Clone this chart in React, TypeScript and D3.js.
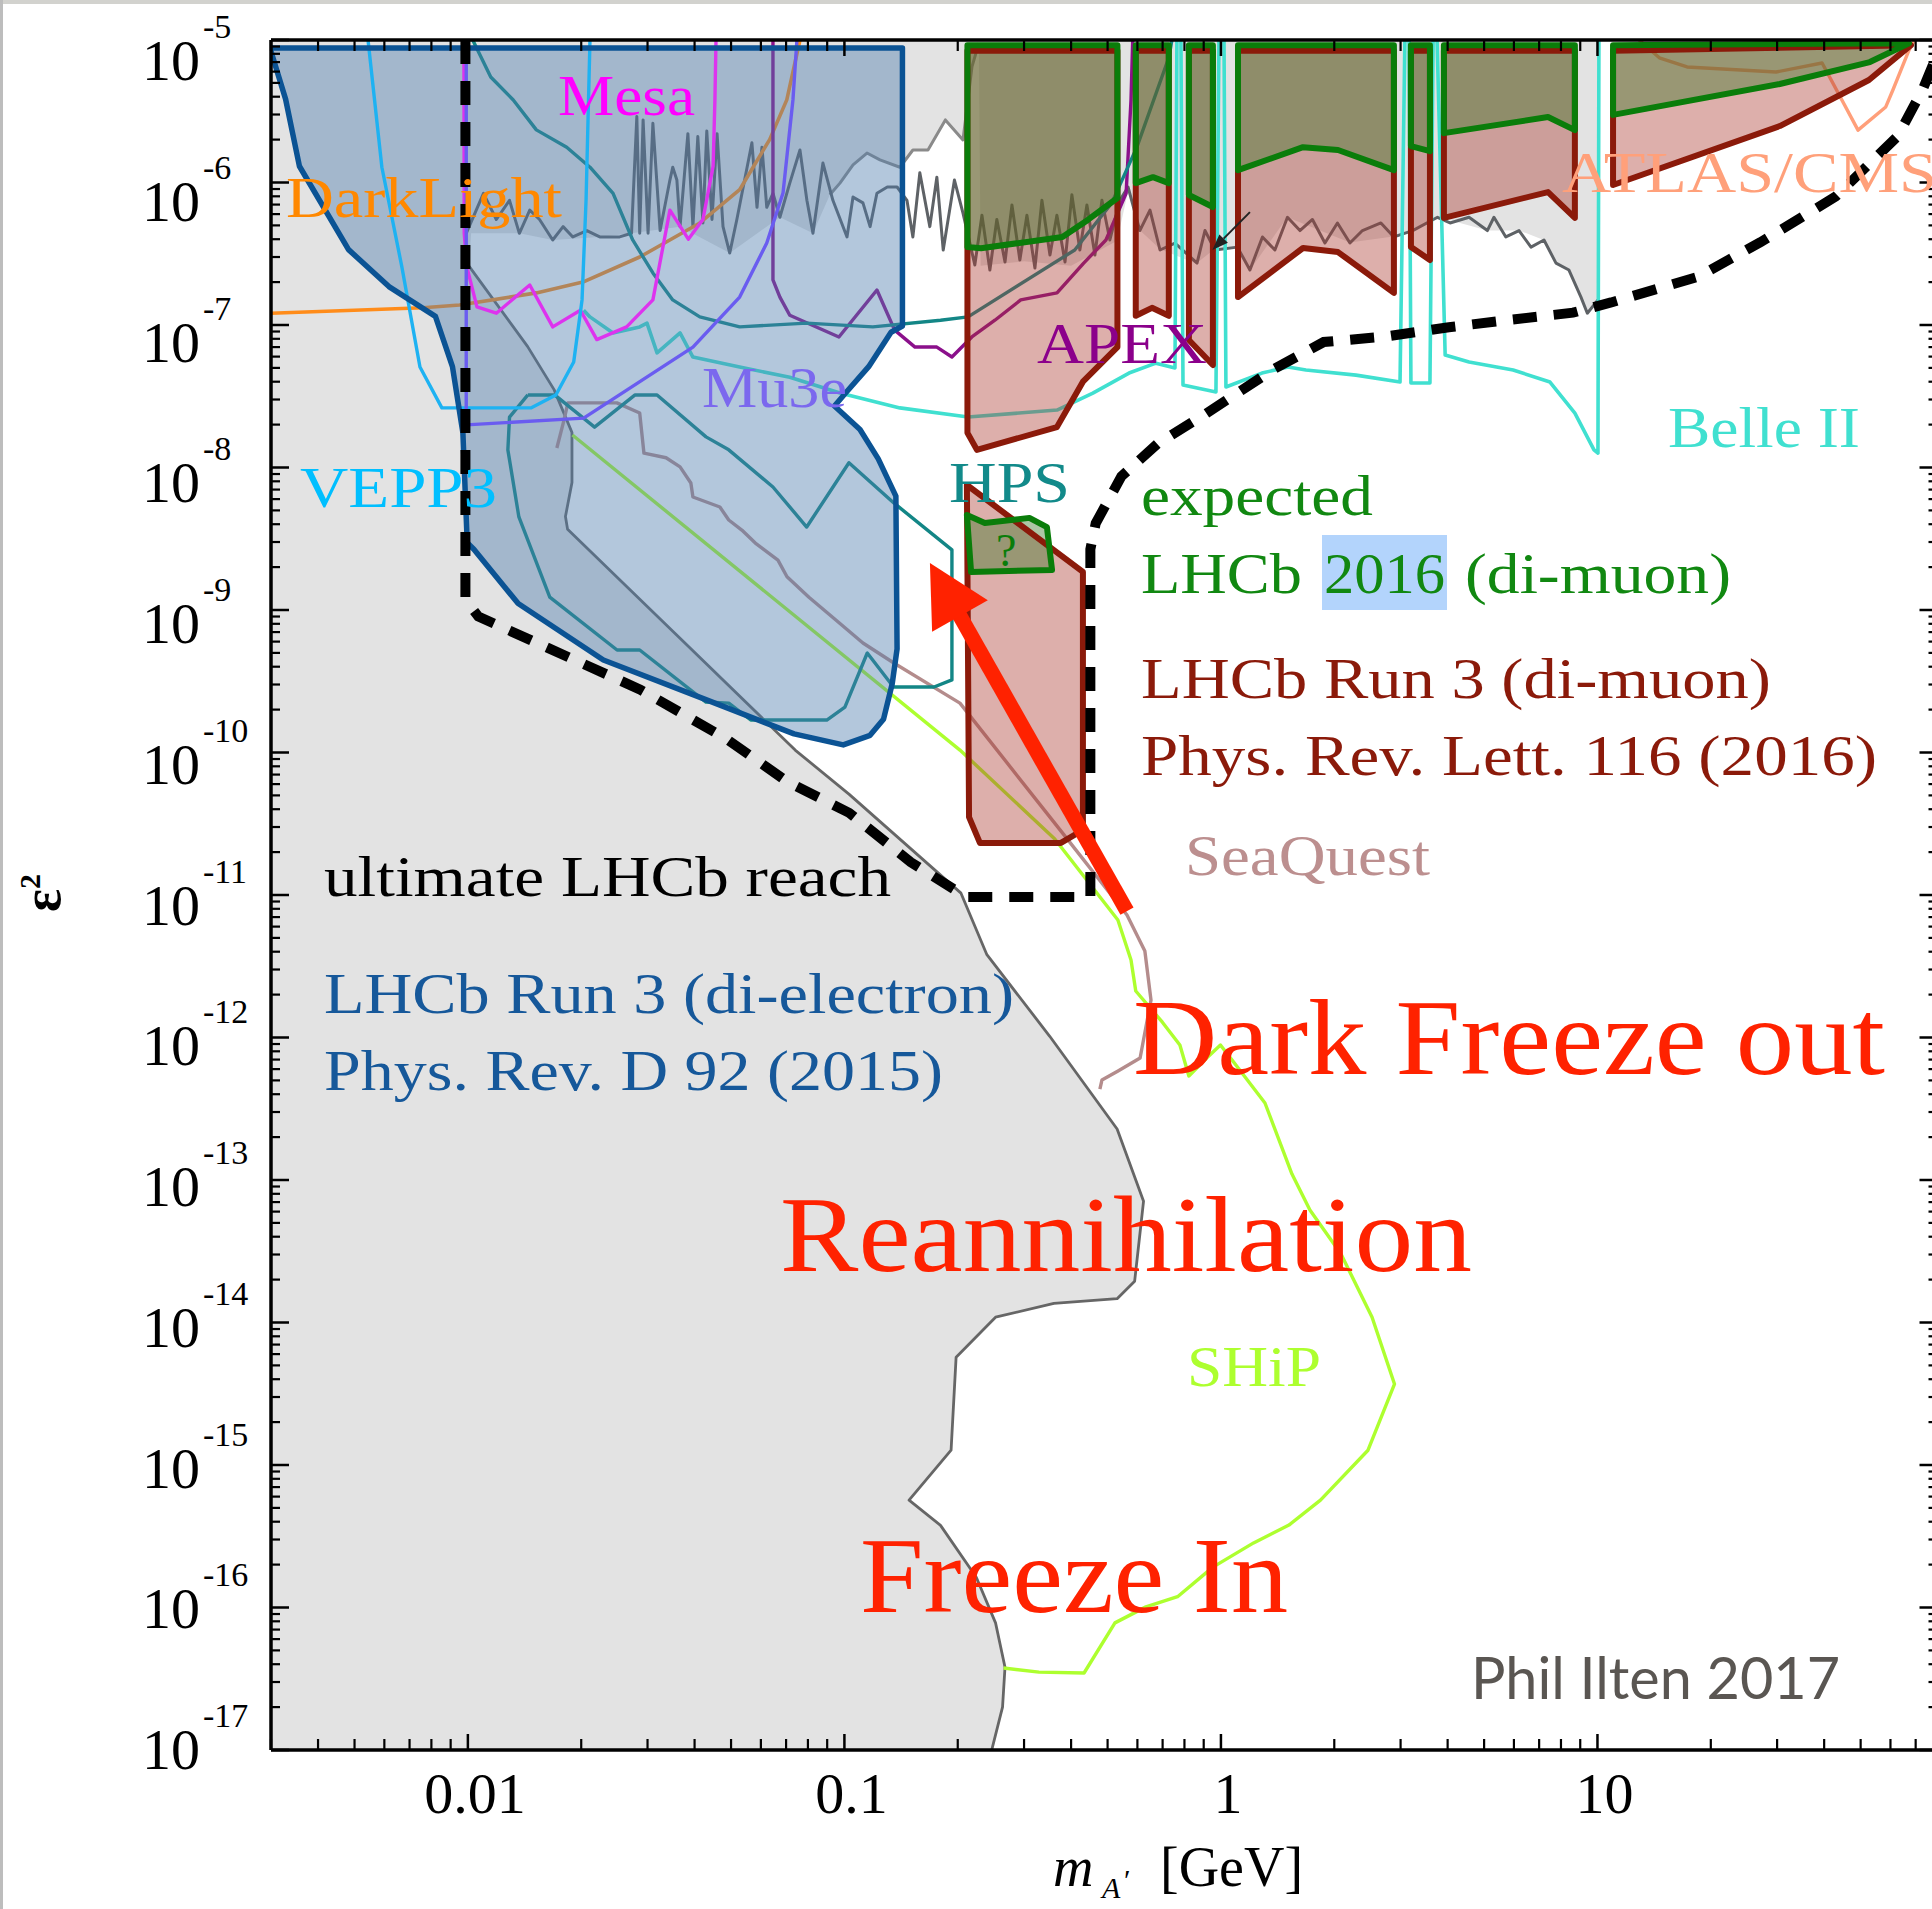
import React from "react";
import * as d3 from "d3";

type P = [number, number];

// ---------- axes ----------
const massDomain: [number, number] = [0.003, 80];
const eps2Domain: [number, number] = [1e-5, 1e-17];
const xMajorTicks = [0.01, 0.1, 1, 10];
const xTickLabels = ["0.01", "0.1", "1", "10"];
const yExponents = [-5, -6, -7, -8, -9, -10, -11, -12, -13, -14, -15, -16, -17];

// ---------- existing limits (grey) ----------
const existingUpper: P[] = [
  [0.0102, 4.4e-7], [0.0137, 4.4e-7], [0.0168, 3.95e-7], [0.0224, 4.15e-7], [0.0272, 4.4e-7],
  [0.0366, 4.9e-7], [0.0496, 3.2e-7], [0.0674, 5.7e-7], [0.0825, 4.4e-7], [0.0915, 8.2e-7],
  [0.1054, 1.33e-6], [0.1148, 1.61e-6], [0.1243, 1.44e-6], [0.1404, 1.28e-6], [0.152, 1.69e-6],
  [0.1667, 1.69e-6], [0.1854, 2.75e-6], [0.2065, 1.99e-6], [0.2182, 6.5e-6], [0.2276, 9.5e-6],
  [0.23, 2.6e-7], [0.3, 2.8e-7], [0.4, 2.6e-7], [0.53, 3.9e-7], [0.57, 9.3e-7], [0.61, 4.6e-7],
  [0.69, 3.4e-7], [0.86, 2.7e-7], [0.96, 3.4e-7], [1.11, 3.5e-7], [1.19, 2.4e-7], [1.5, 5.7e-7],
  [2.2, 3.8e-7], [2.9, 4.2e-7], [3.8, 5.7e-7], [5.1, 4.6e-7], [6.2, 4.6e-7], [7.2, 3.95e-7],
  [7.76, 2.72e-7], [8.4, 2.43e-7], [9.04, 1.57e-7], [9.4, 1.21e-7], [10.03, 1.5e-7], [10.1, 1e-5],
  [80, 1e-5],
];

const beamDump: P[] = [
  [0.01008, 2.58e-7], [0.0144, 7.08e-8], [0.01694, 3.52e-8], [0.0189, 1.76e-8], [0.0189, 7.84e-9],
  [0.01816, 4.53e-9], [0.0184, 3.68e-9], [0.0354, 6.9e-10], [0.074, 1.04e-10], [0.103, 5.08e-11],
  [0.204, 1.03e-11], [0.239, 3.81e-12], [0.351, 1.02e-12], [0.53, 2.28e-13], [0.623, 7.1e-14],
  [0.59, 1.95e-14], [0.53, 1.47e-14], [0.36, 1.36e-14], [0.252, 1.09e-14], [0.198, 5.71e-15],
  [0.192, 1.27e-15], [0.1485, 5.67e-16], [0.18, 3.77e-16], [0.224, 1.63e-16], [0.252, 7.8e-17],
  [0.267, 3.81e-17], [0.263, 2.0e-17], [0.245, 9.5e-18],
];

const babarNoise: P[] = [
  [0.0099, 4.4e-7], [0.011, 8.4e-7], [0.0119, 5.5e-7], [0.0129, 7.5e-7], [0.0137, 4.4e-7], [0.0146, 6.4e-7],
  [0.0155, 5.5e-7], [0.0168, 3.95e-7], [0.0179, 4.9e-7], [0.019, 4.15e-7], [0.0207, 4.6e-7], [0.0224, 4.15e-7],
  [0.0253, 4.15e-7], [0.0272, 4.4e-7], [0.0281, 2.9e-6], [0.0286, 4.4e-7], [0.0292, 2.75e-6], [0.0301, 4.4e-7],
  [0.031, 2.6e-6], [0.0324, 4.6e-7], [0.0344, 1.04e-6], [0.035, 1.28e-6], [0.0359, 1.04e-6], [0.0366, 4.9e-7],
  [0.0384, 2.2e-6], [0.0396, 4.9e-7], [0.0408, 2.1e-6], [0.0421, 5.2e-7], [0.0431, 2.3e-6], [0.0445, 5.5e-7],
  [0.0459, 2.2e-6], [0.0476, 4.9e-7], [0.0496, 3.2e-7], [0.0518, 5.5e-7], [0.0568, 1.9e-6], [0.0586, 6.7e-7],
  [0.0604, 1.77e-6], [0.0622, 6.7e-7], [0.0646, 8.4e-7], [0.0674, 5.7e-7], [0.0716, 9.9e-7], [0.0762, 1.69e-6],
  [0.0795, 7.5e-7], [0.0825, 4.4e-7], [0.0877, 1.37e-6], [0.0932, 7.5e-7], [0.1016, 4.15e-7], [0.1054, 7.9e-7],
  [0.112, 7.2e-7], [0.117, 4.9e-7], [0.122, 8.4e-7], [0.13, 9.3e-7], [0.138, 9.3e-7], [0.1466, 7.5e-7],
  [0.152, 4.15e-7], [0.1586, 1.17e-6], [0.1686, 4.9e-7], [0.176, 1.09e-6], [0.183, 3.36e-7], [0.196, 1.04e-6],
  [0.2065, 6.1e-7], [0.222, 2.64e-7], [0.2319, 5.9e-7], [0.2434, 2.43e-7], [0.254, 5.5e-7], [0.267, 2.77e-7],
  [0.2786, 6.95e-7], [0.2924, 2.86e-7], [0.3053, 5.9e-7], [0.3206, 2.51e-7], [0.3346, 7.5e-7], [0.3515, 3.1e-7],
  [0.3667, 5.9e-7], [0.3854, 2.77e-7], [0.4019, 8.2e-7], [0.422, 3.36e-7], [0.4406, 6.95e-7], [0.4627, 3.1e-7],
  [0.483, 7.5e-7], [0.507, 3.95e-7], [0.539, 7.5e-7], [0.5666, 9.3e-7], [0.609, 4.6e-7], [0.648, 6.4e-7],
  [0.689, 3.36e-7], [0.755, 3.76e-7], [0.864, 2.72e-7], [0.907, 4.6e-7], [0.964, 3.36e-7], [1.106, 3.52e-7],
  [1.194, 2.43e-7], [1.289, 4.15e-7], [1.391, 3.36e-7], [1.502, 5.7e-7], [1.621, 4.6e-7], [1.75, 5.5e-7],
  [1.889, 3.76e-7], [2.039, 5.2e-7], [2.201, 3.76e-7], [2.376, 4.6e-7], [2.66, 5.2e-7], [2.88, 4.15e-7],
  [3.23, 4.6e-7], [3.76, 5.7e-7], [4.06, 5.2e-7], [4.56, 5.7e-7], [5.1, 4.6e-7], [5.31, 5.7e-7],
  [5.71, 4.15e-7], [6.19, 4.6e-7], [6.66, 3.52e-7], [7.21, 3.95e-7], [7.76, 2.72e-7], [8.4, 2.43e-7],
  [9.04, 1.57e-7], [9.4, 1.21e-7], [10.03, 1.5e-7],
];

const babarUpper: P[] = [
  [0.0915, 8.2e-7], [0.0973, 9.9e-7], [0.1054, 1.33e-6], [0.1148, 1.61e-6], [0.1243, 1.44e-6],
  [0.1404, 1.28e-6], [0.152, 1.69e-6], [0.1667, 1.69e-6], [0.1854, 2.75e-6], [0.2065, 1.99e-6],
  [0.2182, 6.5e-6], [0.2276, 9.5e-6],
];

// ---------- future experiments ----------
const darkLight: P[] = [
  [0.003, 1.21e-7], [0.0076, 1.32e-7], [0.0095, 1.38e-7], [0.0152, 1.68e-7], [0.0202, 2.0e-7],
  [0.0286, 3.0e-7], [0.0413, 5.2e-7], [0.0527, 8.9e-7], [0.0633, 2.0e-6], [0.0703, 3.8e-6], [0.0762, 1e-5],
];
const mesa: P[] = [
  [0.00976, 1e-5], [0.00978, 4.4e-7], [0.00994, 2.55e-7], [0.01057, 1.34e-7], [0.0119, 1.21e-7],
  [0.0146, 1.91e-7], [0.0168, 9.7e-8], [0.0199, 1.27e-7], [0.022, 7.9e-8], [0.0264, 9.7e-8],
  [0.031, 1.5e-7], [0.0344, 6.4e-7], [0.0385, 4.0e-7], [0.0421, 5.5e-7], [0.0448, 1.3e-6],
  [0.0453, 3.8e-6], [0.0456, 1e-5],
];
const vepp3: P[] = [
  [0.00543, 1e-5], [0.00591, 1.28e-6], [0.00668, 2.55e-7], [0.00746, 5.07e-8], [0.00853, 2.62e-8],
  [0.0147, 2.62e-8], [0.01713, 3.23e-8], [0.0191, 5.5e-8], [0.0201, 1.5e-7], [0.0206, 7.5e-7], [0.0211, 1e-5],
];
const mu3e: P[] = [
  [0.0099, 1e-5], [0.0099, 1.99e-8], [0.0203, 2.22e-8], [0.0396, 7.0e-8], [0.0527, 1.57e-7],
  [0.0622, 3.76e-7], [0.0687, 8.43e-7], [0.073, 3.8e-6], [0.0748, 1e-5],
];
const apex: P[] = [
  [0.0646, 1e-5], [0.0646, 2.07e-7], [0.0674, 1.57e-7], [0.0716, 1.17e-7], [0.0967, 8.24e-8],
  [0.122, 1.76e-7], [0.136, 9.2e-8], [0.154, 7.0e-8], [0.176, 7.0e-8], [0.193, 5.96e-8],
  [0.218, 8.24e-8], [0.251, 1.08e-7], [0.294, 1.5e-7], [0.367, 1.68e-7], [0.432, 2.72e-7],
  [0.495, 3.95e-7], [0.56, 8.4e-7], [0.577, 3.8e-6], [0.583, 1e-5],
];
const hpsUpper: P[] = [
  [0.0103, 1e-5], [0.0115, 5.5e-6], [0.0132, 3.79e-6], [0.0152, 2.34e-6], [0.0183, 1.77e-6],
  [0.0211, 1.28e-6], [0.0243, 8.4e-7], [0.0274, 3.95e-7], [0.031, 2.32e-7], [0.035, 1.5e-7],
  [0.0413, 1.14e-7], [0.0527, 9.7e-8], [0.0794, 1.03e-7], [0.119, 9.7e-8], [0.18, 1.08e-7],
  [0.213, 1.14e-7], [0.409, 3.36e-7], [0.513, 7.2e-7], [0.598, 1.77e-6], [0.728, 7.6e-6], [0.741, 1e-5],
];
const hpsLower: P[] = [
  [0.01443, 3.23e-8], [0.017, 3.23e-8], [0.0217, 1.92e-8], [0.0278, 3.23e-8], [0.0318, 3.23e-8],
  [0.0429, 1.64e-8], [0.0493, 1.33e-8], [0.0646, 7.3e-9], [0.0794, 3.82e-9], [0.1028, 1.08e-8],
  [0.1353, 5.64e-9], [0.193, 2.64e-9], [0.193, 3.23e-10], [0.173, 2.88e-10], [0.135, 2.88e-10],
  [0.115, 4.99e-10], [0.1003, 2.08e-10], [0.0898, 1.69e-10], [0.0564, 1.69e-10], [0.0493, 2.22e-10],
  [0.0429, 2.26e-10], [0.0286, 5.24e-10], [0.0249, 5.24e-10], [0.0165, 1.23e-9], [0.01366, 4.5e-9],
  [0.01277, 1.33e-8], [0.0129, 2.26e-8], [0.01443, 3.23e-8],
];
const belle2: P[] = [
  [0.0203, 1.27e-7], [0.0211, 1.14e-7], [0.0243, 8.8e-8], [0.0286, 9.7e-8], [0.0299, 1.03e-7],
  [0.0318, 6.37e-8], [0.0366, 8.8e-8], [0.0396, 5.96e-8], [0.0527, 5.07e-8], [0.0716, 4.3e-8],
  [0.0973, 3.33e-8], [0.1404, 2.62e-8], [0.213, 2.26e-8], [0.367, 2.53e-8], [0.457, 3.33e-8],
  [0.57, 4.6e-8], [0.672, 5.4e-8], [0.755, 5.0e-8], [0.764, 1e-5], [0.783, 1e-5], [0.793, 3.79e-8],
  [0.97, 3.39e-8], [0.988, 1e-5], [1.019, 1e-5], [1.031, 3.67e-8], [1.285, 4.6e-8], [1.507, 5.07e-8],
  [1.682, 4.83e-8], [2.284, 4.45e-8], [2.99, 3.98e-8], [3.08, 1e-5], [3.16, 1e-5], [3.196, 3.92e-8],
  [3.59, 3.92e-8], [3.66, 1e-5], [3.75, 1e-5], [3.94, 6.15e-8], [4.56, 5.5e-8], [5.97, 4.83e-8],
  [7.48, 3.98e-8], [8.71, 2.41e-8], [9.79, 1.33e-8], [10.03, 1.26e-8], [10.09, 1e-5],
];
const seaQuest: P[] = [
  [0.01723, 1.37e-8], [0.018, 2.15e-8], [0.01843, 2.84e-8], [0.02487, 2.84e-8], [0.0286, 2.41e-8],
  [0.02935, 1.26e-8], [0.0336, 1.17e-8], [0.0366, 1.01e-8], [0.0391, 7.78e-9], [0.0396, 6.21e-9],
  [0.0467, 5.28e-9], [0.0493, 4.28e-9], [0.0534, 3.64e-9], [0.058, 2.95e-9], [0.0666, 2.24e-9],
  [0.0704, 1.71e-9], [0.0805, 1.23e-9], [0.0949, 8.51e-10], [0.112, 5.87e-10], [0.1353, 4.25e-10],
  [0.2027, 2.22e-10], [0.383, 2.64e-11], [0.563, 7.24e-12], [0.628, 4.05e-12], [0.652, 1.83e-12],
  [0.61, 7.18e-13], [0.533, 5.82e-13], [0.483, 5.03e-13], [0.477, 4.35e-13],
];
const ship: P[] = [
  [0.01895, 1.69e-8], [0.2027, 1.04e-10], [0.362, 2.47e-11], [0.5325, 6.68e-12], [0.577, 3.5e-12],
  [0.594, 2.12e-12], [0.699, 1.28e-12], [0.778, 8.86e-13], [0.822, 5.37e-13], [0.918, 7.2e-13],
  [0.997, 8.86e-13], [1.083, 6.68e-13], [1.309, 3.47e-13], [1.544, 1.1e-13], [1.723, 6.15e-14],
  [2.084, 3.02e-14], [2.52, 1.09e-14], [2.89, 3.7e-15], [2.458, 1.27e-15], [1.838, 5.67e-16],
  [1.516, 3.79e-16], [1.221, 2.84e-16], [0.952, 1.92e-16], [0.767, 1.19e-16], [0.632, 1.01e-16],
  [0.523, 7.8e-17], [0.433, 3.47e-17], [0.3286, 3.52e-17], [0.2647, 3.76e-17],
];
const atlasCms: P[] = [
  [12.9, 1e-5], [14.6, 7.5e-6], [17.3, 6.47e-6], [29.8, 5.96e-6], [39.5, 6.9e-6], [49.2, 2.33e-6],
  [58.3, 3.39e-6], [60.9, 4.46e-6], [67.2, 8.5e-6], [69.7, 1e-5],
];

// ---------- LHCb projections ----------
const lhcbDiElectron: P[] = [
  [0.00298, 8.8e-6], [0.1426, 8.8e-6], [0.1426, 9.84e-8], [0.133, 8.9e-8], [0.116, 5.1e-8],
  [0.101, 3.36e-8], [0.0941, 2.7e-8], [0.11, 1.85e-8], [0.123, 1.15e-8], [0.137, 6.3e-9],
  [0.138, 5.33e-10], [0.134, 3.05e-10], [0.127, 1.71e-10], [0.117, 1.32e-10], [0.0993, 1.13e-10],
  [0.0735, 1.35e-10], [0.0427, 2.36e-10], [0.0229, 4.46e-10], [0.0136, 1.11e-9], [0.01037, 2.67e-9],
  [0.00996, 2.96e-9], [0.0097, 1.75e-8], [0.0091, 5.1e-8], [0.0082, 1.15e-7], [0.00617, 1.86e-7],
  [0.00482, 3.38e-7], [0.00357, 1.3e-6], [0.00328, 3.85e-6],
];
const run3DiMuon: P[][] = [
  [[0.2122, 8.4e-6], [0.2122, 1.75e-8], [0.2249, 1.33e-8], [0.3667, 1.92e-8], [0.43, 4.0e-8], [0.531, 7.0e-8], [0.531, 8.4e-6]],
  [[0.594, 8.4e-6], [0.594, 1.16e-7], [0.656, 1.32e-7], [0.727, 1.16e-7], [0.727, 8.4e-6]],
  [[0.822, 8.4e-6], [0.822, 7.85e-8], [0.952, 5.24e-8], [0.952, 8.4e-6]],
  [[1.11, 8.4e-6], [1.11, 1.57e-7], [1.652, 3.47e-7], [2.046, 3.25e-7], [2.88, 1.68e-7], [2.88, 8.4e-6]],
  [[3.196, 8.4e-6], [3.196, 3.53e-7], [3.59, 2.86e-7], [3.59, 8.4e-6]],
  [[3.91, 8.4e-6], [3.91, 5.64e-7], [7.39, 8.57e-7], [8.71, 5.64e-7], [8.71, 8.4e-6]],
  [[11.0, 8.4e-6], [11.0, 9.6e-7], [30.5, 2.49e-6], [52.6, 5.24e-6], [68.0, 9.2e-6]],
  [[0.2115, 7.54e-9], [0.43, 1.85e-9], [0.43, 2.86e-11], [0.3758, 2.32e-11], [0.229, 2.32e-11], [0.2143, 3.52e-11]],
];
const lhcb2016: P[][] = [
  [[0.2122, 9.2e-6], [0.2122, 3.53e-7], [0.2305, 3.46e-7], [0.3793, 4.14e-7], [0.443, 5.46e-7], [0.531, 7.78e-7], [0.531, 9.2e-6]],
  [[0.594, 9.2e-6], [0.594, 9.9e-7], [0.66, 1.09e-6], [0.727, 9.9e-7], [0.727, 9.2e-6]],
  [[0.822, 9.2e-6], [0.822, 8.17e-7], [0.952, 6.73e-7], [0.952, 9.2e-6]],
  [[1.11, 9.2e-6], [1.11, 1.22e-6], [1.652, 1.77e-6], [2.046, 1.69e-6], [2.88, 1.22e-6], [2.88, 9.2e-6]],
  [[3.196, 9.2e-6], [3.196, 1.8e-6], [3.59, 1.66e-6], [3.59, 9.2e-6]],
  [[3.91, 9.2e-6], [3.91, 2.22e-6], [7.39, 2.88e-6], [8.71, 2.33e-6], [8.71, 9.2e-6]],
  [[11.0, 9.2e-6], [11.0, 2.98e-6], [30.5, 4.91e-6], [52.9, 7.0e-6], [67.2, 9.5e-6]],
  [[0.2115, 4.64e-9], [0.236, 4.08e-9], [0.31, 4.43e-9], [0.345, 3.82e-9], [0.356, 1.91e-9], [0.217, 1.85e-9]],
];
const ultimateReach: P[] = [
  [0.00985, 1e-5], [0.00985, 1.18e-9], [0.01066, 9.0e-10], [0.0287, 2.76e-10], [0.0485, 1.25e-10],
  [0.0708, 6.2e-11], [0.103, 3.77e-11], [0.15, 1.7e-11], [0.203, 1.03e-11], [0.21, 9.7e-12],
  [0.45, 9.7e-12], [0.45, 2.67e-9], [0.465, 4.06e-9], [0.544, 8.67e-9], [0.681, 1.48e-8],
  [0.893, 2.3e-8], [1.382, 4.9e-8], [1.875, 7.6e-8], [2.74, 8.3e-8], [4.03, 9.65e-8], [5.89, 1.09e-7],
  [8.61, 1.22e-7], [10.87, 1.44e-7], [18.5, 2.18e-7], [27.1, 3.81e-7], [42.9, 7.96e-7], [62.7, 2.11e-6],
  [73.1, 4.5e-6], [80, 8e-6],
];
const arrowTail: P = [0.563, 7.7e-12];
const arrowTip: P = [0.1687, 2.14e-9];
const smallArrow: P[] = [[1.194, 6.2e-7], [0.949, 3.36e-7]];

const SERIF = "'Liberation Serif', 'Times New Roman', serif";
const SANS = "Lato, 'Open Sans', sans-serif";

function Label(props: { x: number; y: number; size: number; color: string; w?: number; children: string; italic?: boolean }) {
  const { x, y, size, color, w, children, italic } = props;
  return (
    <text x={x} y={y} fontSize={size} fill={color} fontFamily={SERIF} fontStyle={italic ? "italic" : "normal"}
      {...(w ? { textLength: w, lengthAdjust: "spacingAndGlyphs" } : {})}>
      {children}
    </text>
  );
}

export default function App() {
  const width = 1932, height = 1909;
  const L = 271, R = 1937.5, T = 40, B = 1750;
  const x = d3.scaleLog().domain(massDomain).range([L, R]);
  const y = d3.scaleLog().domain(eps2Domain).range([T, B]);
  const labelBase = d3.scaleLinear().domain([-5, -17]).range([80, 1769]);
  const line = d3.line<P>().x((d) => x(d[0])).y((d) => y(d[1]));
  const poly = (pts: P[]) => (line(pts) || "") + "Z";

  const corridor: P[] = [...existingUpper, [80, 1e-17], ...[...beamDump].reverse()];

  const xMinor: number[] = [];
  [0.001, 0.01, 0.1, 1, 10].forEach((d) => {
    for (let k = 2; k <= 9; k++) {
      const v = k * d;
      if (v >= massDomain[0] * 0.999 && v <= massDomain[1]) xMinor.push(v);
    }
  });
  const yMajor = yExponents.map((e) => Math.pow(10, e));
  const yMinor: number[] = [];
  for (let e = -17; e < -5; e++) for (let k = 2; k <= 9; k++) yMinor.push(k * Math.pow(10, e));

  // red arrow geometry
  const tx = x(arrowTail[0]), ty = y(arrowTail[1]);
  const hx = x(arrowTip[0]), hy = y(arrowTip[1]);
  const len = Math.hypot(hx - tx, hy - ty);
  const ux = (hx - tx) / len, uy = (hy - ty) / len;
  const headL = 61, headW = 32;
  const bx = hx - ux * headL, by = hy - uy * headL;
  const head = `M${hx},${hy}L${bx - uy * headW},${by + ux * headW}L${bx + uy * headW},${by - ux * headW}Z`;

  const sx1 = x(smallArrow[0][0]), sy1 = y(smallArrow[0][1]);
  const sx2 = x(smallArrow[1][0]), sy2 = y(smallArrow[1][1]);
  const sl = Math.hypot(sx2 - sx1, sy2 - sy1);
  const sux = (sx2 - sx1) / sl, suy = (sy2 - sy1) / sl;
  const sbx = sx2 - sux * 16, sby = sy2 - suy * 16;
  const smallHead = `M${sx2},${sy2}L${sbx - suy * 6},${sby + sux * 6}L${sbx + suy * 6},${sby - sux * 6}Z`;

  const dimLines: { d: P[]; c: string; w: number }[] = [
    { d: babarUpper, c: "#8a8a8a", w: 3 },
    { d: babarNoise, c: "#5e6266", w: 3 },
    { d: beamDump, c: "#666666", w: 2.8 },
    { d: darkLight, c: "#ff8c1a", w: 3.6 },
    { d: belle2, c: "#40e0d0", w: 3.6 },
    { d: seaQuest, c: "#b48c8c", w: 3.4 },
    { d: ship, c: "#adff2f", w: 3.4 },
    { d: apex, c: "#8b108b", w: 3.4 },
    { d: hpsUpper, c: "#138686", w: 3.4 },
    { d: hpsLower, c: "#138686", w: 3.4 },
    { d: atlasCms, c: "#ff9f7a", w: 3.4 },
  ];
  const brightLines: { d: P[]; c: string; w: number }[] = [
    { d: mesa, c: "#dd33ee", w: 3.4 },
    { d: vepp3, c: "#1eb2f2", w: 3.4 },
    { d: mu3e, c: "#6a5cf0", w: 3.4 },
  ];

  return (
    <svg width={width} height={height} viewBox={`0 0 ${width} ${height}`}
      style={{ position: "absolute", left: 0, top: 0, background: "#fff" }}>
      <defs>
        <clipPath id="plotClip">
          <rect x={L} y={T} width={R - L} height={B - T} />
        </clipPath>
      </defs>
      <rect x={0} y={0} width={width} height={height} fill="#fff" />
      <rect x={0} y={0} width={width} height={4} fill="#d2d2ce" />
      <rect x={0} y={0} width={3} height={height} fill="#bdbdbd" />

      <g clipPath="url(#plotClip)">
        <rect x={L} y={T} width={R - L} height={B - T} fill="#e3e3e3" />
        <path d={poly(corridor)} fill="#ffffff" />

        {dimLines.map((l, i) => (
          <path key={"dl" + i} d={line(l.d) || ""} fill="none" stroke={l.c} strokeWidth={l.w} strokeLinejoin="round" />
        ))}

        <path d={poly(lhcbDiElectron)} fill="rgba(78,126,173,0.43)" />
        {run3DiMuon.map((p, i) => (
          <path key={"rf" + i} d={poly(p)} fill="rgba(170,55,45,0.4)" />
        ))}
        {lhcb2016.map((p, i) => (
          <path key={"gf" + i} d={poly(p)} fill="rgba(60,120,40,0.42)" />
        ))}

        {brightLines.map((l, i) => (
          <path key={"bl" + i} d={line(l.d) || ""} fill="none" stroke={l.c} strokeWidth={l.w} strokeLinejoin="round" />
        ))}

        <path d={poly(lhcbDiElectron)} fill="none" stroke="#0b5394" strokeWidth={5.5} strokeLinejoin="round" />
        {run3DiMuon.map((p, i) => (
          <path key={"rs" + i} d={poly(p)} fill="none" stroke="#8b1a0a" strokeWidth={6} strokeLinejoin="round" />
        ))}
        {lhcb2016.map((p, i) => (
          <path key={"gs" + i} d={poly(p)} fill="none" stroke="#0a7d0a" strokeWidth={6} strokeLinejoin="round" />
        ))}

        <path d={line(ultimateReach) || ""} fill="none" stroke="#000" strokeWidth={10} strokeDasharray="24 17" />

        <path d={`M${sx1},${sy1}L${sbx},${sby}`} stroke="#222" strokeWidth={2} />
        <path d={smallHead} fill="#222" />

        <path d={`M${tx},${ty}L${bx + ux * 2},${by + uy * 2}`} stroke="#ff2200" strokeWidth={15} />
        <path d={head} fill="#ff2200" />
      </g>

      {/* axes frame */}
      <g stroke="#000" fill="none">
        <line x1={L} y1={T} x2={width} y2={T} strokeWidth={3.5} />
        <line x1={L} y1={B} x2={width} y2={B} strokeWidth={3.5} />
        <line x1={L} y1={T} x2={L} y2={B} strokeWidth={3.5} />
        <line x1={R} y1={T} x2={R} y2={B} strokeWidth={3.5} />
        {xMajorTicks.map((v) => (
          <g key={"xM" + v}>
            <line x1={x(v)} x2={x(v)} y1={B} y2={B - 16} strokeWidth={2.5} />
            <line x1={x(v)} x2={x(v)} y1={T} y2={T + 16} strokeWidth={2.5} />
          </g>
        ))}
        {xMinor.map((v) => (
          <g key={"xm" + v}>
            <line x1={x(v)} x2={x(v)} y1={B} y2={B - 11} strokeWidth={2.2} />
            <line x1={x(v)} x2={x(v)} y1={T} y2={T + 11} strokeWidth={2.2} />
          </g>
        ))}
        {yMajor.map((v) => (
          <g key={"yM" + v}>
            <line x1={L} x2={L + 18} y1={y(v)} y2={y(v)} strokeWidth={2.5} />
            <line x1={R} x2={R - 18} y1={y(v)} y2={y(v)} strokeWidth={2.5} />
          </g>
        ))}
        {yMinor.map((v) => (
          <g key={"ym" + v}>
            <line x1={L} x2={L + 9} y1={y(v)} y2={y(v)} strokeWidth={2.2} />
            <line x1={R} x2={R - 9} y1={y(v)} y2={y(v)} strokeWidth={2.2} />
          </g>
        ))}
      </g>

      {/* tick labels */}
      {xMajorTicks.map((v, i) => (
        <text key={"xl" + v} x={x(v) + 7} y={1813} fontSize={58} textAnchor="middle" fontFamily={SERIF} fill="#000">
          {xTickLabels[i]}
        </text>
      ))}
      {yExponents.map((e) => (
        <g key={"yl" + e}>
          <text x={200} y={labelBase(e)} fontSize={58} textAnchor="end" fontFamily={SERIF} fill="#000">10</text>
          <text x={203} y={labelBase(e) - 42} fontSize={34} fontFamily={SERIF} fill="#000">{String(e)}</text>
        </g>
      ))}

      {/* axis titles */}
      <text x={1053} y={1886} fontSize={56} fontFamily={SERIF} fontStyle="italic" fill="#000">m</text>
      <text x={1102} y={1898} fontSize={30} fontFamily={SERIF} fontStyle="italic" fill="#000">A</text>
      <text x={1124} y={1890} fontSize={30} fontFamily={SERIF} fill="#000">′</text>
      <text x={1160} y={1886} fontSize={56} fontFamily={SERIF} fill="#000">[GeV]</text>
      <text transform="translate(60,893) rotate(-90)" fontSize={54} fontWeight="bold" textAnchor="middle" fontFamily={SERIF} fill="#000">
        ε<tspan fontSize={30} dy={-20}>2</tspan>
      </text>

      {/* experiment labels */}
      <Label x={558} y={115} size={58} color="#ff00ff" w={137}>Mesa</Label>
      <Label x={286} y={217} size={58} color="#ff8800" w={276}>DarkLight</Label>
      <Label x={300} y={507} size={58} color="#00bfff" w={197}>VEPP3</Label>
      <Label x={702} y={407} size={58} color="#7b68ee" w={145}>Mu3e</Label>
      <Label x={1037} y={363} size={58} color="#8b008b" w={170}>APEX</Label>
      <Label x={949} y={502} size={58} color="#128a8a" w={121}>HPS</Label>
      <Label x={1562} y={192} size={58} color="#ffa07a" w={375}>ATLAS/CMS</Label>
      <Label x={1668} y={447} size={58} color="#40e0d0" w={192}>Belle II</Label>
      <text x={996} y={566} fontSize={46} fill="#0a7d0a" fontFamily={SERIF}>?</text>

      <Label x={1141} y={515} size={58} color="#118811" w={232}>expected</Label>
      <rect x={1322} y={535} width={125} height={75} fill="#b3d4fc" />
      <Label x={1141} y={593} size={58} color="#118811" w={161}>LHCb</Label>
      <Label x={1324} y={593} size={58} color="#118811" w={121}>2016</Label>
      <Label x={1465} y={593} size={58} color="#118811" w={266}>(di-muon)</Label>
      <Label x={1141} y={698} size={58} color="#8b1a0a" w={630}>LHCb Run 3 (di-muon)</Label>
      <Label x={1141} y={775} size={58} color="#8b1a0a" w={736}>Phys. Rev. Lett. 116 (2016)</Label>
      <Label x={1185} y={875} size={56} color="#bc8f8f" w={245}>SeaQuest</Label>

      <Label x={324} y={896} size={58} color="#000" w={567}>ultimate LHCb reach</Label>
      <Label x={324} y={1013} size={58} color="#16589a" w={690}>LHCb Run 3 (di-electron)</Label>
      <Label x={324} y={1090} size={58} color="#16589a" w={619}>Phys. Rev. D 92 (2015)</Label>
      <Label x={1187} y={1386} size={56} color="#adff2f" w={134}>SHiP</Label>

      <Label x={1133} y={1074} size={108} color="#ff2200" w={752}>Dark Freeze out</Label>
      <Label x={780} y={1271} size={108} color="#ff2200" w={692}>Reannihilation</Label>
      <Label x={860} y={1612} size={108} color="#ff2200" w={428}>Freeze In</Label>

      <text x={1471} y={1699} fontSize={58} fill="#5a5652" fontFamily={SANS} textLength={369} lengthAdjust="spacingAndGlyphs">
        Phil Ilten 2017
      </text>
    </svg>
  );
}
